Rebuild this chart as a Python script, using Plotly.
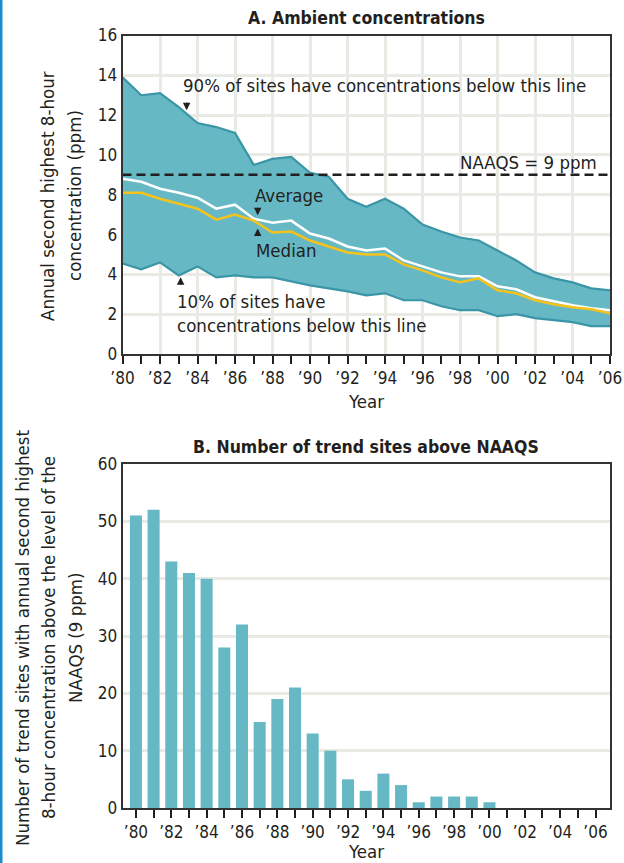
import plotly.graph_objects as go

# ---------------- data ----------------
years = [1980, 1981, 1982, 1983, 1984, 1985, 1986, 1987, 1988, 1989, 1990, 1991, 1992,
         1993, 1994, 1995, 1996, 1997, 1998, 1999, 2000, 2001, 2002, 2003, 2004, 2005, 2006]

pct90 = [13.9, 13.0, 13.1, 12.4, 11.6, 11.4, 11.1, 9.5, 9.8, 9.9, 9.1, 8.9, 7.8,
         7.4, 7.8, 7.3, 6.5, 6.15, 5.85, 5.7, 5.2, 4.7, 4.1, 3.8, 3.6, 3.3, 3.2]
average = [8.8, 8.65, 8.3, 8.1, 7.85, 7.3, 7.5, 6.8, 6.6, 6.7, 6.05, 5.8, 5.4,
           5.2, 5.3, 4.7, 4.4, 4.1, 3.9, 3.9, 3.4, 3.25, 2.85, 2.65, 2.45, 2.3, 2.2]
median = [8.1, 8.1, 7.8, 7.55, 7.3, 6.75, 7.0, 6.7, 6.1, 6.15, 5.7, 5.4, 5.1,
          5.0, 5.0, 4.5, 4.2, 3.85, 3.6, 3.8, 3.2, 3.05, 2.7, 2.5, 2.35, 2.25, 2.05]
pct10 = [4.55, 4.25, 4.6, 3.95, 4.4, 3.85, 3.95, 3.85, 3.85, 3.65, 3.45, 3.3, 3.15,
         2.95, 3.05, 2.7, 2.7, 2.4, 2.2, 2.2, 1.9, 2.0, 1.8, 1.7, 1.6, 1.4, 1.4]
naaqs = 9

sites_above = [51, 52, 43, 41, 40, 28, 32, 15, 19, 21, 13, 10, 5,
               3, 6, 4, 1, 2, 2, 2, 1, 0, 0, 0, 0, 0, 0]

label_years = [1980, 1982, 1984, 1986, 1988, 1990, 1992, 1994, 1996, 1998, 2000, 2002, 2004, 2006]
label_text = ["’80", "’82", "’84", "’86", "’88", "’90", "’92", "’94", "’96", "’98",
              "’00", "’02", "’04", "’06"]
minor_years = [1981, 1983, 1985, 1987, 1989, 1991, 1993, 1995, 1997, 1999, 2001, 2003, 2005]
yticks_a = [0, 2, 4, 6, 8, 10, 12, 14, 16]
yticks_b = [0, 10, 20, 30, 40, 50, 60]

# ---------------- style ----------------
W, H = 624, 863
FONT = "DejaVu Sans Condensed, Liberation Sans Narrow, Arial Narrow, sans-serif"
TXT = "#231F20"
TEAL = "#66B8C5"
TEAL_DARK = "#3A96A6"
YELLOW = "#F6C21B"
GRID = "#EAEAE4"
FRAME = "#333333"


def px_x(p):
    return p / W


def px_y(p):
    return 1 - p / H


fig = go.Figure()

# Panel A
fig.add_trace(go.Scatter(x=years, y=pct10, mode="lines", line=dict(color=TEAL_DARK, width=2.2),
                         xaxis="x", yaxis="y", showlegend=False, hoverinfo="skip"))
fig.add_trace(go.Scatter(x=years, y=pct90, mode="lines", line=dict(color=TEAL_DARK, width=2.2),
                         fill="tonexty", fillcolor=TEAL,
                         xaxis="x", yaxis="y", showlegend=False, hoverinfo="skip"))
fig.add_trace(go.Scatter(x=years, y=average, mode="lines", line=dict(color="white", width=2.5),
                         xaxis="x", yaxis="y", showlegend=False))
fig.add_trace(go.Scatter(x=years, y=median, mode="lines", line=dict(color=YELLOW, width=2.5),
                         xaxis="x", yaxis="y", showlegend=False))

# Panel B
fig.add_trace(go.Bar(x=years, y=sites_above, marker=dict(color=TEAL, line=dict(width=0)),
                     width=0.68, xaxis="x2", yaxis="y2", showlegend=False))

tickfont = dict(family=FONT, size=17, color=TXT)

xa_common = dict(
    tickmode="array", tickvals=label_years, ticktext=label_text,
    ticks="outside", ticklen=8, tickwidth=2, tickcolor=TXT,
    minor=dict(tickmode="array", tickvals=minor_years, ticks="outside", ticklen=8,
               tickwidth=2, tickcolor=TXT, showgrid=False),
    showline=True, linecolor=FRAME, linewidth=1.6, mirror=True,
    tickfont=tickfont, zeroline=False, fixedrange=True, automargin=False,
)
ya_common = dict(
    tickmode="array", ticks="", showgrid=True, gridcolor=GRID, gridwidth=2.5,
    showline=True, linecolor=FRAME, linewidth=1.6, mirror=True, tickfont=tickfont,
    zeroline=False, fixedrange=True, automargin=False,
)

fig.update_layout(
    template="none",
    width=W, height=H,
    margin=dict(l=0, r=0, t=0, b=0, pad=0),
    paper_bgcolor="white", plot_bgcolor="white",
    font=dict(family=FONT, color=TXT),
    showlegend=False,
    xaxis=dict(domain=[px_x(122.5), px_x(610)], range=[1980, 2006], anchor="y",
               showgrid=True, gridcolor=GRID, gridwidth=2.5, **xa_common),
    yaxis=dict(domain=[px_y(354), px_y(35.5)], range=[0, 16], anchor="x",
               tickvals=yticks_a, **ya_common),
    xaxis2=dict(domain=[px_x(122.5), px_x(610)], range=[1979.24, 2006.82], anchor="y2",
                showgrid=False, **xa_common),
    yaxis2=dict(domain=[px_y(808), px_y(464)], range=[0, 60], anchor="x2",
                tickvals=yticks_b, **ya_common),
)

# NAAQS dashed line and left blue rule
fig.add_shape(type="line", xref="x", yref="y", x0=years[0], x1=years[-1], y0=naaqs, y1=naaqs,
              line=dict(color=TXT, width=2.5, dash="9px,5px"), layer="above")
fig.add_shape(type="rect", xref="paper", yref="paper", x0=0, x1=px_x(2.5), y0=0, y1=1,
              fillcolor="#1B8BCB", line=dict(width=0), layer="above")

ann_font = dict(family=FONT, size=18.5, color=TXT)
title_font = dict(family=FONT, size=17.5, color=TXT)


def text_ann(x, y, text, xanchor="left", xref="x", yref="y", font=ann_font, angle=0):
    fig.add_annotation(x=x, y=y, xref=xref, yref=yref, text=text, showarrow=False,
                       xanchor=xanchor, yanchor="middle", font=font, textangle=angle)


def arrow_ann(x, y, ay):
    fig.add_annotation(x=x, y=y, xref="x", yref="y", text="", showarrow=True,
                       ax=0, ay=ay, arrowhead=2, arrowsize=1.0, arrowwidth=1.5,
                       arrowcolor=TXT, standoff=0)


# Titles
text_ann(px_x(366), px_y(18), "<b>A. Ambient concentrations</b>", "center", "paper", "paper", title_font)
text_ann(px_x(366), px_y(447), "<b>B. Number of trend sites above NAAQS</b>", "center", "paper", "paper", title_font)

# Axis titles
text_ann(px_x(366), px_y(401), "Year", "center", "paper", "paper", ann_font)
text_ann(px_x(366), px_y(851), "Year", "center", "paper", "paper", ann_font)
text_ann(px_x(48), px_y(196), "Annual second highest 8-hour", "center", "paper", "paper", ann_font, -90)
text_ann(px_x(75), px_y(196), "concentration (ppm)", "center", "paper", "paper", ann_font, -90)
text_ann(px_x(22), px_y(638), "Number of trend sites with annual second highest", "center", "paper", "paper", ann_font, -90)
text_ann(px_x(48), px_y(638), "8-hour concentration above the level of the", "center", "paper", "paper", ann_font, -90)
text_ann(px_x(75), px_y(638), "NAAQS (9 ppm)", "center", "paper", "paper", ann_font, -90)

# Panel A labels
text_ann(1983.12, 13.5, "90% of sites have concentrations below this line")
arrow_ann(1983.42, 12.24, -9)
text_ann(2005.41, 9.63, "NAAQS = 9 ppm", "right")
text_ann(1986.98, 7.97, "Average")
arrow_ann(1987.21, 6.97, -9)
arrow_ann(1987.21, 6.30, 9)
text_ann(1987.03, 5.22, "Median")
arrow_ann(1983.1, 3.85, 9)
text_ann(1982.8, 2.62, "10% of sites have")
text_ann(1982.8, 1.45, "concentrations below this line")

fig.write_html("out.html", config={"displayModeBar": False},
               post_script="document.body.style.margin='0';")
